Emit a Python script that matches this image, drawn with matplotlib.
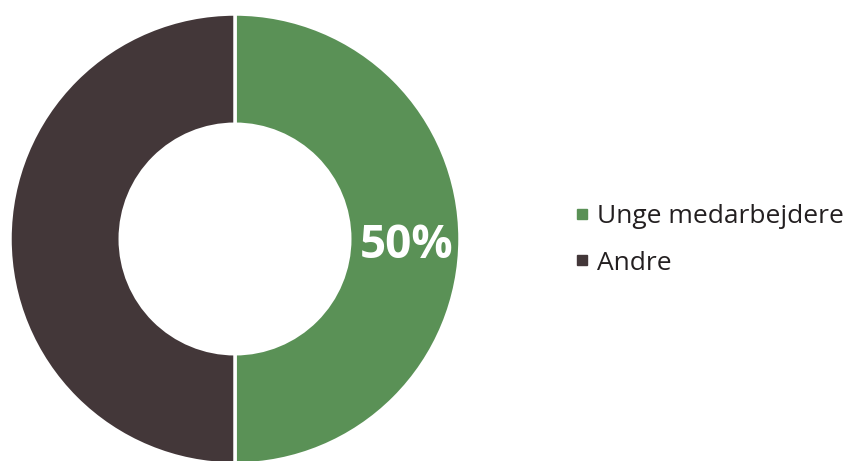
import numpy as np
import matplotlib.pyplot as plt

# data
labels = ['Unge medarbejdere', 'Andre']
values = [50, 50]
colors = ['#5a9156', '#433739']
shown = ['50%', '']

plt.rcParams['font.family'] = ['Open Sans', 'DejaVu Sans']

fig = plt.figure(figsize=(8.46, 4.61), dpi=100)
W, H = 846, 461
ax = fig.add_axes([10 / W, -3 / H, 450 / W, 450 / H])

wedges, _ = ax.pie(values, colors=colors, startangle=90, counterclock=False,
                   radius=1, wedgeprops=dict(width=0.49, edgecolor='white', linewidth=2.5))

# label only the first wedge, at the middle of the ring
for w, txt in zip(wedges, shown):
    if not txt:
        continue
    ang = np.deg2rad((w.theta1 + w.theta2) / 2)
    r = 1 - 0.49 / 2
    ax.text(r * np.cos(ang) + 0.01, r * np.sin(ang) - 0.03, txt, color='white',
            fontsize=33, fontweight='bold', ha='center', va='center')

ax.set_xlim(-1, 1)
ax.set_ylim(-1, 1)
ax.set_aspect('equal')
ax.axis('off')

handles = [plt.Line2D([0], [0], marker='s', linestyle='', markersize=7,
                      markerfacecolor=c, markeredgecolor=c) for c in colors]
fig.legend(handles, labels, loc='center left', bbox_to_anchor=(552 / W, 1 - 240 / H),
           frameon=False, fontsize=19, handlelength=0.5, handletextpad=0.3,
           labelspacing=0.8, labelcolor='#231f20')

fig.savefig('out.png', dpi=100)
